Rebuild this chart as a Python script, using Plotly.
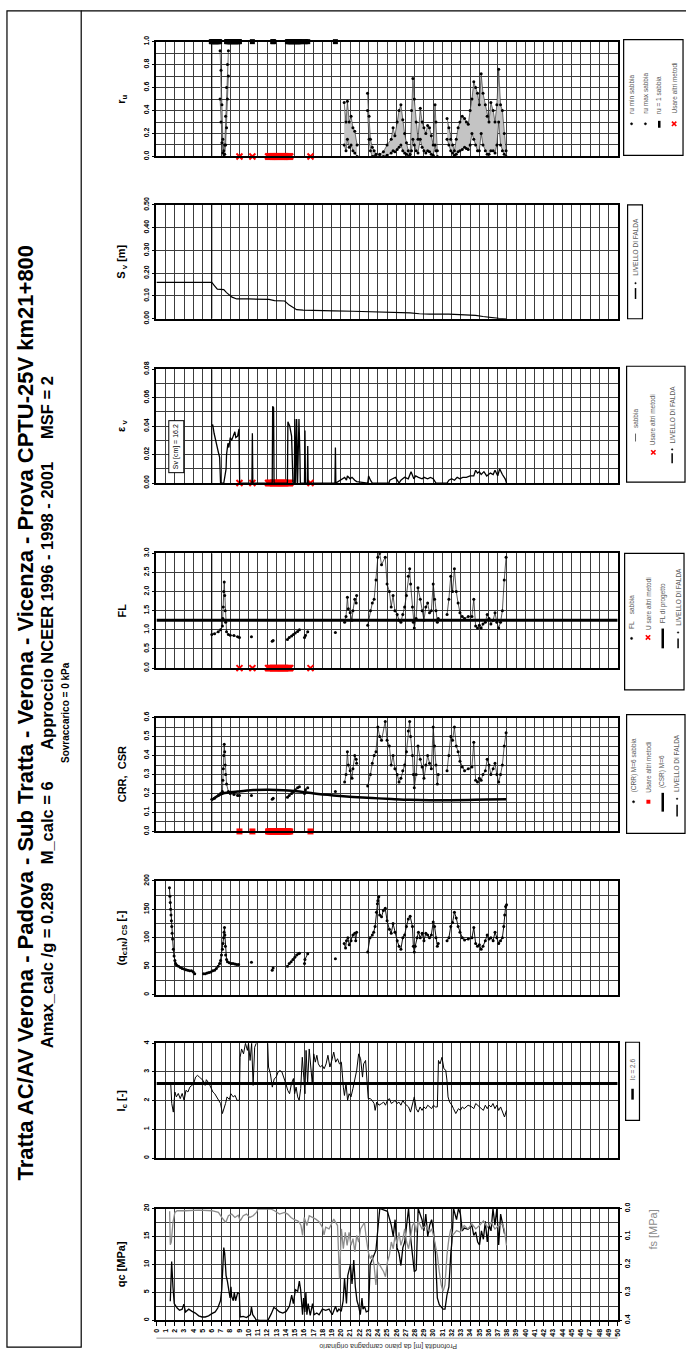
import plotly.graph_objects as go

W, H = 689, 1359

# ------------------------------------------------------------------ data
depth_ticks = list(range(0, 51))

qc_depth = [1.50, 1.65, 1.79, 1.93, 2.25, 2.50, 2.79, 2.97, 3.15, 3.50, 3.86, 4.22, 4.58, 4.94, 5.29, 5.65,
            6.01, 6.37, 6.65, 6.94, 7.08, 7.19, 7.30, 7.40, 7.55, 7.69, 7.80, 7.98, 8.08, 8.15, 8.33, 8.44,
            8.58, 8.80, 8.98, 9.08, 9.41, 9.76, 10.01, 10.19, 10.30, 10.44, 10.66, 10.80, 11.2, 12.0, 12.09,
            12.45, 12.73, 13.02, 13.34, 13.70, 14.06, 14.41, 14.66, 14.84, 15.06, 15.31, 15.49, 15.63, 15.74,
            15.84, 15.95, 16.09, 16.20, 16.31, 16.45, 16.67, 16.92, 17.10, 17.38, 17.63, 17.99, 18.35, 18.71,
            19.06, 19.42, 19.60, 19.78, 20.03, 20.24, 20.39, 20.60, 20.74, 21.03, 21.20, 21.39, 21.56, 21.74,
            21.92, 22.10, 22.28, 22.39, 22.56, 22.74, 22.99, 23.17, 23.79, 24.21, 25.04, 25.46, 25.67, 25.87,
            26.08, 26.29, 26.50, 26.71, 26.91, 27.12, 27.33, 27.54, 27.75, 27.95, 28.16, 28.37, 28.79, 28.99,
            29.20, 29.41, 29.62, 29.83, 30.03, 30.24, 30.45, 30.66, 31.07, 31.28, 31.49, 31.70, 31.91, 32.03,
            32.20, 32.53, 32.74, 32.95, 33.15, 33.36, 33.78, 34.19, 34.40, 34.61, 34.82, 35.02, 35.23, 35.44,
            35.65, 35.86, 36.06, 36.27, 36.48, 36.69, 36.90, 37.10, 37.31, 37.52, 37.73]
qc_val = [3.4, 10.5, 6.0, 3.0, 2.2, 1.8, 2.0, 2.9, 1.5, 2.0, 1.6, 1.3, 0.8, 0.6, 0.6, 0.8,
          1.2, 1.5, 2.2, 3.5, 5.5, 10.0, 13.0, 12.0, 8.0, 7.0, 5.5, 4.0, 6.0, 4.3, 3.5, 5.0,
          3.5, 4.9, 4.8, 0.6, 0.7, 0.5, 0.8, 1.0, 2.4, 1.0, 0.5, 0.1, 0.0, 0.0, 0.0,
          1.2, 2.3, 2.0, 1.5, 1.3, 1.6, 2.5, 4.5, 3.0, 5.5, 5.2, 7.0, 5.5, 2.0,
          1.0, 4.0, 1.5, 5.0, 1.0, 3.0, 0.9, 3.0, 1.0, 1.3, 1.0, 2.0, 1.8, 2.0,
          1.0, 2.5, 1.5, 2.0, 1.6, 3.5, 7.5, 3.0, 8.0, 10.0, 6.5, 10.8, 6.0, 3.5,
          2.5, 1.0, 4.0, 2.0, 2.5, 1.5, 1.7, 10.0, 12.5, 20.0, 19.5, 17.0, 15.0, 18.0,
          13.0, 12.0, 9.8, 13.0, 14.0, 17.0, 20.0, 15.0, 12.0, 8.7, 9.0, 20.0, 18.0, 16.0,
          19.0, 15.0, 17.0, 18.0, 16.0, 12.0, 4.0, 2.8, 2.0, 2.0, 4.5, 6.0, 12.0, 14.0,
          20.0, 18.0, 20.0, 19.0, 16.0, 16.5, 16.3, 17.0, 15.2, 15.8, 14.0, 13.5, 16.0, 14.5,
          17.7, 14.0, 17.0, 16.0, 20.0, 17.0, 20.0, 13.5, 19.0, 17.0, 15.5]

fs_depth = [1.43, 1.50, 1.61, 1.79, 2.00, 2.25, 3.15, 4.58, 6.01, 6.72, 7.08, 7.51, 7.80, 8.15, 8.51, 8.87,
            9.08, 9.41, 9.76, 10.12, 10.48, 10.84, 11.02, 12.45, 12.80, 13.34, 13.88, 14.23, 14.59, 14.95,
            15.31, 15.49, 15.67, 15.84, 16.02, 16.31, 16.56, 16.92, 17.27, 17.63, 17.99, 18.17, 18.35, 18.71,
            19.22, 19.63, 19.84, 20.05, 20.26, 20.47, 20.67, 20.88, 21.09, 21.30, 21.51, 21.71, 21.92, 22.13,
            22.34, 22.55, 22.75, 22.96, 23.17, 23.38, 23.59, 23.79, 24.00, 24.21, 24.63, 24.83, 25.04, 25.25,
            25.46, 25.67, 25.87, 26.08, 26.29, 26.50, 26.71, 26.91, 27.12, 27.33, 27.54, 27.75, 27.95, 28.16,
            28.37, 28.79, 29.20, 29.62, 29.83, 30.03, 30.24, 30.45, 30.66, 30.87, 31.07, 31.28, 31.49, 31.70,
            31.91, 32.11, 32.53, 32.95, 33.36, 33.78, 34.19, 34.61, 35.02, 35.44, 35.86, 36.27, 36.69, 37.10,
            37.52, 37.73, 37.94]
fs_val = [0.010, 0.130, 0.120, 0.050, 0.014, 0.008, 0.008, 0.006, 0.008, 0.014, 0.032, 0.050, 0.026, 0.020,
          0.032, 0.024, 0.044, 0.026, 0.020, 0.032, 0.026, 0.014, 0.002, 0.002, 0.008, 0.020, 0.014, 0.020,
          0.032, 0.040, 0.044, 0.050, 0.061, 0.096, 0.032, 0.061, 0.026, 0.032, 0.038, 0.047, 0.067, 0.094,
          0.067, 0.073, 0.038, 0.061, 0.250, 0.073, 0.144, 0.085, 0.132, 0.085, 0.132, 0.108, 0.155, 0.096,
          0.120, 0.073, 0.061, 0.050, 0.108, 0.155, 0.179, 0.167, 0.202, 0.273, 0.191, 0.202, 0.226, 0.244,
          0.191, 0.167, 0.120, 0.144, 0.096, 0.126, 0.085, 0.132, 0.108, 0.073, 0.120, 0.144, 0.096, 0.061,
          0.050, 0.085, 0.044, 0.073, 0.061, 0.085, 0.073, 0.096, 0.132, 0.167, 0.226, 0.273, 0.296, 0.273,
          0.167, 0.108, 0.073, 0.096, 0.079, 0.085, 0.061, 0.073, 0.055, 0.073, 0.061, 0.044, 0.067, 0.050,
          0.073, 0.061, 0.055, 0.079, 0.132]

ic_depth = [1.54, 1.66, 1.83, 2.00, 2.16, 2.37, 2.58, 2.79, 3.00, 3.20, 3.41, 3.62, 3.83, 4.03, 4.24, 4.45,
            4.66, 5.07, 5.28, 5.41, 5.70, 5.91, 6.12, 6.32, 6.53, 6.74, 6.95, 7.15, 7.28, 7.49, 7.65, 7.90,
            8.07, 8.32, 8.53, 8.74, 8.99, 9.07, 9.23, 9.44, 9.65, 9.86, 9.98, 10.15, 10.32, 10.48, 10.65,
            10.82, 11.2, 11.8, 12.06, 12.15, 12.35, 12.56, 12.77, 12.98, 13.19, 13.39, 13.60, 13.81, 14.02,
            14.23, 14.43, 14.64, 14.85, 14.98, 15.14, 15.31, 15.47, 15.64, 15.81, 15.97, 16.10, 16.22, 16.39,
            16.56, 16.72, 16.89, 17.05, 17.22, 17.39, 17.55, 17.76, 17.97, 18.18, 18.39, 18.59, 18.80, 19.01,
            19.22, 19.43, 19.63, 19.84, 20.05, 20.26, 20.38, 20.55, 20.72, 20.88, 21.09, 21.30, 21.51, 21.71,
            21.92, 22.13, 22.34, 22.46, 22.67, 22.80, 22.96, 23.17, 23.38, 23.59, 23.71, 23.88, 24.13, 24.42,
            24.63, 24.83, 25.04, 25.25, 25.46, 25.67, 25.87, 26.08, 26.29, 26.50, 26.71, 26.91, 27.12, 27.33,
            27.54, 27.75, 27.95, 28.16, 28.37, 28.58, 28.79, 28.99, 29.20, 29.41, 29.62, 29.83, 30.03, 30.24,
            30.45, 30.57, 30.74, 30.95, 31.16, 31.36, 31.49, 31.61, 31.78, 32.03, 32.20, 32.45, 32.74, 32.95,
            33.15, 33.36, 33.78, 34.19, 34.40, 34.61, 35.02, 35.44, 35.65, 35.86, 36.06, 36.27, 36.48, 36.69,
            36.90, 37.10, 37.31, 37.52, 37.73, 37.94]
ic_val = [2.65, 1.90, 1.60, 2.30, 2.13, 2.25, 2.07, 2.25, 2.01, 2.36, 2.30, 2.47, 2.53, 2.58, 2.82, 2.88,
          2.82, 2.70, 2.53, 2.73, 2.60, 2.42, 2.30, 2.24, 2.13, 2.01, 1.90, 1.55, 1.66, 1.90, 2.13, 2.04,
          2.24, 2.13, 2.18, 2.01, 2.01, 3.51, 3.80, 3.63, 4.00, 3.75, 4.00, 3.40, 4.00, 2.53, 3.86,
          4.00, 4.50, 4.50, 4.00, 3.17, 2.94, 2.47, 2.76, 2.82, 3.00, 3.05, 3.00, 2.82, 2.60,
          2.36, 2.24, 2.60, 2.77, 2.24, 2.47, 2.13, 2.01, 2.42, 3.51, 2.82, 2.24, 3.75, 2.60,
          3.80, 3.06, 2.60, 3.63, 3.34, 3.58, 3.28, 3.17, 3.23, 3.11, 3.28, 3.58, 3.17, 3.40,
          3.69, 3.34, 3.46, 3.28, 3.34, 2.47, 2.18, 2.60, 2.01, 2.24, 2.13, 2.42, 2.71, 3.06,
          3.63, 3.46, 2.82, 3.28, 3.40, 2.82, 2.07, 2.07, 2.01, 1.90, 1.66, 1.95, 1.84, 1.90,
          1.95, 1.84, 2.01, 2.07, 1.90, 1.95, 2.01, 1.90, 1.95, 1.84, 2.01, 1.90, 1.84, 1.78,
          1.60, 1.90, 2.13, 1.72, 1.60, 1.78, 1.66, 1.78, 1.72, 1.84, 1.78, 1.72, 1.84, 1.78,
          1.78, 3.40, 3.28, 3.51, 3.11, 3.06, 2.71, 2.13, 1.95, 1.84, 1.72, 1.55, 1.72, 1.66,
          1.78, 1.72, 1.84, 1.78, 1.72, 1.90, 1.78, 1.66, 1.84, 1.72, 1.84, 1.78, 1.90, 1.72,
          1.84, 1.66, 1.78, 1.60, 1.43, 1.66]
IC_LIMIT = 2.6

qc1_depth = [1.41, 1.46, 1.50, 1.54, 1.58, 1.62, 1.66, 1.70, 1.75, 1.83, 1.91, 2.00, 2.08, 2.2, 2.4, 2.6,
             2.8, 3.0, 3.2, 3.4, 3.6, 3.8, 4.0, 4.15, 5.1, 5.3, 5.5, 5.7, 5.9, 6.1, 6.3, 6.5, 6.7, 6.85,
             6.95, 7.05, 7.15, 7.22, 7.28, 7.33, 7.38, 7.42, 7.47, 7.5, 7.6, 7.7, 7.9, 8.1, 8.3, 8.5, 8.7,
             8.9, 10.3, 12.55, 12.65, 14.2, 14.4, 14.6, 14.8, 15.0, 15.2, 15.4, 15.5, 16.05, 16.1, 16.4,
             19.4, 20.35, 20.5, 20.6, 20.75, 20.9, 21.1, 21.3, 21.5, 21.6, 21.7, 22.9, 23.15, 23.4, 23.55,
             23.7, 23.85, 23.95, 24.0, 24.1, 24.2, 24.4, 24.6, 24.8, 25.0, 25.25, 25.45, 25.65, 25.85, 26.1,
             26.3, 26.5, 26.7, 26.9, 27.1, 27.3, 27.5, 27.75, 27.85, 27.95, 28.05, 28.25, 28.4, 28.6, 28.8,
             29.0, 29.2, 29.4, 29.6, 29.8, 30.0, 30.15, 30.3, 30.45, 30.55, 31.5, 31.7, 31.9, 32.1, 32.3,
             32.5, 32.7, 32.9, 33.15, 33.4, 33.8, 34.2, 34.4, 34.6, 34.8, 35.0, 35.2, 35.4, 35.65, 35.85,
             36.05, 36.25, 36.5, 36.7, 36.9, 37.1, 37.3, 37.5, 37.65, 37.75, 37.85, 37.95]
qc1_val = [188, 173, 162, 150, 140, 130, 120, 108, 98, 80, 68, 60, 55, 52, 50, 48,
           46, 45, 44, 43, 42, 42, 40, 37, 37, 37, 38, 39, 40, 42, 43, 46, 50, 55,
           60, 70, 80, 90, 100, 110, 118, 105, 85, 70, 62, 58, 56, 55, 55, 54, 53,
           53, 57, 43, 47, 50, 55, 58, 62, 66, 70, 72, 73, 55, 62, 72,
           63, 90, 82, 95, 100, 88, 95, 105, 108, 95, 110, 75, 100, 105, 110,
           120, 145, 160, 165, 172, 140, 137, 148, 152, 130, 115, 108, 125, 110, 95,
           85, 80, 100, 105, 120, 133, 138, 120, 85, 75, 85, 100, 110, 100, 108,
           95, 108, 105, 100, 105, 128, 120, 100, 85, 90, 95, 100, 120, 127, 145,
           135, 120, 110, 100, 96, 98, 100, 118, 90, 85, 88, 80, 85, 95, 105,
           98, 100, 95, 110, 100, 90, 95, 100, 120, 140, 155, 158]

crr_depth = [6.0, 6.3, 6.7, 6.95, 7.15, 7.2, 7.25, 7.3, 7.35, 7.4, 7.45, 7.5, 7.6, 7.8, 8.0, 8.4, 8.8, 9.0,
             10.3, 12.55, 12.65, 14.2, 14.4, 14.65, 14.85, 15.05, 15.3, 15.5, 16.05, 16.15, 16.4, 19.4,
             20.4, 20.55, 20.7, 20.8, 21.0, 21.2, 21.3, 21.5, 21.65, 21.7, 22.9, 23.2, 23.4, 23.6, 23.8,
             24.0, 24.2, 24.4, 24.8, 25.0, 25.25, 25.45, 25.65, 25.85, 26.1, 26.3, 26.5, 26.7, 26.9, 27.1,
             27.3, 27.45, 27.55, 27.75, 27.85, 27.95, 28.15, 28.35, 28.6, 28.8, 29.0, 29.2, 29.4, 29.6,
             29.8, 30.0, 30.15, 30.3, 30.45, 30.55, 31.5, 31.7, 31.9, 32.1, 32.3, 32.5, 32.7, 32.9, 33.15,
             33.4, 33.8, 34.2, 34.4, 34.6, 34.8, 35.0, 35.2, 35.4, 35.65, 35.85, 36.05, 36.25, 36.5, 36.7,
             36.9, 37.1, 37.3, 37.5, 37.7, 37.9]
crr_val = [0.17, 0.175, 0.19, 0.20, 0.21, 0.27, 0.33, 0.40, 0.46, 0.42, 0.35, 0.30, 0.25, 0.21, 0.20, 0.195, 0.19, 0.19,
           0.19, 0.17, 0.175, 0.18, 0.19, 0.20, 0.21, 0.22, 0.23, 0.235, 0.20, 0.22, 0.23, 0.21,
           0.26, 0.30, 0.42, 0.35, 0.32, 0.28, 0.33, 0.40, 0.38, 0.36, 0.24, 0.30, 0.36, 0.40, 0.42,
           0.55, 0.50, 0.48, 0.58, 0.48, 0.45, 0.35, 0.40, 0.33, 0.30, 0.26, 0.28, 0.32, 0.35, 0.42,
           0.53, 0.58, 0.50, 0.40, 0.30, 0.23, 0.30, 0.45, 0.38, 0.34, 0.28, 0.35, 0.40, 0.36,
           0.33, 0.55, 0.45, 0.35, 0.25, 0.30, 0.32, 0.40, 0.50, 0.48, 0.55, 0.45, 0.42, 0.37, 0.34,
           0.32, 0.33, 0.34, 0.47, 0.27, 0.26, 0.28, 0.27, 0.30, 0.32, 0.38, 0.35, 0.30, 0.33, 0.36,
           0.30, 0.26, 0.30, 0.35, 0.45, 0.52]

csr_depth = [6.0, 6.4, 7.2, 8.8, 10.5, 12.2, 13.8, 15.5, 17.1, 19.2, 21.3, 23.4, 25.5, 27.5, 29.6, 31.7,
             33.8, 35.9, 37.9]
csr_val = [0.165, 0.18, 0.20, 0.21, 0.218, 0.22, 0.217, 0.21, 0.20, 0.19, 0.182, 0.176, 0.171, 0.167,
           0.165, 0.165, 0.166, 0.168, 0.169]

fl_depth = crr_depth[:]
fl_val = [0.88, 0.90, 0.95, 1.00, 1.10, 1.30, 1.60, 2.00, 2.25, 1.90, 1.50, 1.20, 0.95, 0.88, 0.86, 0.85, 0.82, 0.80,
          0.82, 0.70, 0.72, 0.75, 0.80, 0.84, 0.88, 0.92, 0.96, 1.00, 0.80, 0.85, 0.95, 0.93,
          1.20, 1.35, 1.85, 1.55, 1.45, 1.25, 1.50, 1.80, 1.70, 1.90, 1.12, 1.50, 1.70, 1.80, 2.30,
          2.90, 3.00, 2.70, 2.90, 2.20, 2.00, 1.60, 1.90, 1.50, 1.40, 1.25, 1.20, 1.40, 1.60, 1.90,
          2.40, 2.60, 2.20, 1.60, 1.20, 1.05, 1.30, 2.10, 1.80, 1.50, 1.25, 1.60, 1.70, 1.45,
          1.50, 2.20, 1.80, 1.50, 1.20, 1.30, 1.40, 1.80, 2.40, 2.00, 2.60, 2.00, 1.70, 1.45, 1.35,
          1.30, 1.35, 1.35, 1.80, 1.10, 1.05, 1.12, 1.05, 1.15, 1.20, 1.40, 1.30, 1.15, 1.25, 1.45,
          1.20, 1.05, 1.20, 1.50, 2.30, 2.90]
FL_DESIGN = 1.25

ev_depth = [6.0, 6.1, 6.25, 6.4, 6.55, 6.7, 6.85, 6.95, 7.3, 7.55, 7.6, 7.75, 7.85, 8.0, 8.15, 8.4, 8.5,
            8.6, 8.8, 8.95, 9.02, 10.35, 10.4, 10.45, 12.55, 12.6, 12.7, 12.75, 14.2, 14.25, 14.45, 14.65,
            14.8, 14.95, 15.0, 15.1, 15.2, 15.3, 15.45, 15.55, 15.6, 16.05, 16.1, 16.15, 16.35, 16.4, 16.45,
            19.35, 19.4, 19.45, 20.4, 20.6, 20.7, 21.0, 21.2, 21.5, 21.7, 22.9, 23.0, 23.2, 23.4, 25.2,
            25.3, 25.6, 25.9, 26.1, 26.3, 26.5, 26.9, 27.3, 27.6, 27.9, 28.1, 28.4, 28.8, 29.0, 29.4, 29.7,
            30.0, 30.3, 31.5, 31.7, 32.0, 32.3, 32.6, 32.9, 33.2, 33.6, 34.0, 34.4, 34.6, 34.8, 35.0, 35.2,
            35.5, 35.8, 36.2, 36.5, 36.7, 37.0, 37.2, 37.5, 37.8, 37.95]
ev_val = [0.040, 0.041, 0.035, 0.030, 0.027, 0.022, 0.018, 0.0, 0.0, 0.010, 0.020, 0.028, 0.025, 0.032, 0.030,
          0.035, 0.036, 0.032, 0.033, 0.038, 0.0, 0.0, 0.035, 0.0, 0.0, 0.054, 0.053, 0.0, 0.0, 0.043, 0.040,
          0.033, 0.0, 0.0, 0.045, 0.0, 0.045, 0.0, 0.045, 0.020, 0.0, 0.0, 0.037, 0.0, 0.0, 0.026, 0.0,
          0.0, 0.025, 0.0, 0.004, 0.002, 0.005, 0.003, 0.004, 0.002, 0.001, 0.0, 0.005, 0.002, 0.0, 0.0,
          0.002, 0.003, 0.004, 0.002, 0.0, 0.002, 0.004, 0.003, 0.008, 0.003, 0.005, 0.004, 0.003, 0.004,
          0.003, 0.004, 0.003, 0.0, 0.0, 0.002, 0.003, 0.002, 0.004, 0.003, 0.004, 0.004, 0.005, 0.005,
          0.009, 0.007, 0.008, 0.006, 0.008, 0.005, 0.007, 0.006, 0.009, 0.005, 0.010, 0.006, 0.003, 0.0]
SV_TOTAL_CM = 16.2

sv_depth = [0.0, 6.0, 6.3, 6.6, 7.3, 7.6, 8.2, 8.7, 10.0, 12.2, 12.8, 13.9, 14.4, 14.8, 15.2, 15.9, 17.1,
            19.2, 21.3, 23.4, 25.5, 27.5, 28.5, 29.6, 31.7, 33.4, 34.6, 35.4, 36.3, 37.1, 37.9]
sv_val = [0.16, 0.16, 0.145, 0.13, 0.128, 0.115, 0.095, 0.087, 0.087, 0.085, 0.08, 0.078, 0.06, 0.048, 0.04,
          0.038, 0.038, 0.035, 0.033, 0.03, 0.03, 0.026, 0.022, 0.02, 0.02, 0.018, 0.015, 0.01, 0.005,
          0.002, 0.0]

ru_depth = [6.9, 7.0, 7.1, 7.2, 7.3, 7.4, 7.5, 7.6, 7.7, 7.8,
            20.35, 20.55, 20.7, 20.9, 21.1, 21.3, 21.5, 21.75,
            22.88, 23.05, 23.2, 23.4, 23.6, 23.8, 24.2, 24.6, 25.0, 25.45, 25.65, 25.85, 26.1, 26.3, 26.5,
            26.7, 26.9, 27.1, 27.3, 27.5, 27.65, 27.8, 27.95, 28.15, 28.35, 28.6, 28.8, 29.0, 29.2, 29.4,
            29.6, 29.8, 30.0, 30.2, 30.3, 30.45,
            31.5, 31.7, 31.9, 32.1, 32.3, 32.5, 32.7, 32.9, 33.15, 33.4, 33.6, 33.8, 34.0, 34.2, 34.4, 34.6,
            34.8, 35.0, 35.2, 35.4, 35.65, 35.85, 36.05, 36.25, 36.5, 36.7, 36.9, 37.1, 37.3, 37.5, 37.7, 37.9]
ru_max = [0.92, 0.75, 0.45, 0.15, 0.05, 0.10, 0.35, 0.60, 0.80, 0.92,
          0.47, 0.30, 0.48, 0.30, 0.35, 0.25, 0.22, 0.10,
          0.55, 0.35, 0.15, 0.08, 0.05, 0.02, 0.02, 0.04, 0.10, 0.15, 0.25, 0.18, 0.30, 0.40, 0.45,
          0.32, 0.20, 0.12, 0.05, 0.02, 0.40, 0.68, 0.50, 0.30, 0.15, 0.42, 0.30, 0.25, 0.20, 0.27,
          0.25, 0.18, 0.10, 0.45, 0.30, 0.05,
          0.33, 0.25, 0.15, 0.10, 0.05, 0.15, 0.25, 0.30, 0.35, 0.33, 0.30, 0.28, 0.40, 0.50, 0.65, 0.60,
          0.55, 0.45, 0.72, 0.55, 0.45, 0.35, 0.30, 0.47, 0.40, 0.30, 0.45, 0.76, 0.45, 0.40, 0.20, 0.05]
ru_min = [0.50, 0.30, 0.12, 0.03, 0.00, 0.02, 0.10, 0.25, 0.50, 0.70,
          0.10, 0.05, 0.15, 0.08, 0.10, 0.05, 0.03, 0.00,
          0.40, 0.15, 0.05, 0.00, 0.00, 0.00, 0.00, 0.00, 0.01, 0.03, 0.05, 0.04, 0.06, 0.08, 0.10,
          0.05, 0.03, 0.02, 0.00, 0.00, 0.05, 0.15, 0.10, 0.05, 0.03, 0.15, 0.08, 0.05, 0.03, 0.05,
          0.04, 0.02, 0.01, 0.10, 0.05, 0.00,
          0.15, 0.10, 0.05, 0.03, 0.01, 0.02, 0.04, 0.05, 0.06, 0.08, 0.07, 0.06, 0.10, 0.20, 0.15, 0.10,
          0.05, 0.05, 0.20, 0.10, 0.05, 0.02, 0.02, 0.05, 0.05, 0.03, 0.10, 0.30, 0.10, 0.05, 0.02, 0.00]
ru1_depth = [5.95, 6.05, 6.15, 6.25, 6.35, 6.45, 6.55, 6.65, 6.75, 6.85, 7.6, 7.7, 7.8, 7.9, 8.0, 8.1,
             8.2, 8.3, 8.4, 8.5, 8.6, 8.7, 8.8, 8.9, 9.0, 10.4, 12.6, 12.7, 14.2, 14.3, 14.4, 14.5, 14.6,
             14.7, 14.8, 14.9, 15.0, 15.1, 15.2, 15.3, 15.4, 15.5, 15.6, 15.7, 16.1, 16.2, 16.4, 19.4]
ru1_val = [1.0] * len(ru1_depth)

other_depth = [9.0, 10.4, 12.1, 12.2, 12.3, 12.4, 12.5, 12.6, 12.7, 12.8, 12.9, 13.0, 13.1, 13.2, 13.3,
               13.4, 13.5, 13.6, 13.7, 13.8, 13.9, 14.0, 14.1, 14.2, 14.3, 14.4, 14.5, 16.7]
other_val = [0.0] * len(other_depth)

WATER_TABLE = 6.0

TITLE_1 = "Tratta AC/AV Verona - Padova - Sub Tratta - Verona - Vicenza - Prova CPTU-25V km21+800"
TITLE_2 = ("Amax_calc /g = 0.289\u00a0\u00a0\u00a0 M_calc = 6\u00a0\u00a0\u00a0\u00a0\u00a0\u00a0 "
           "Approccio NCEER 1996 - 1998 - 2001\u00a0\u00a0\u00a0\u00a0 MSF = 2")
TITLE_3 = "Sovraccarico = 0 kPa"

# ------------------------------------------------------------------ helpers
FONT = "Liberation Sans"
GRID = "#3c3c3c"
LEG_TXT = "#595959"


def fx(p):
    return p / W


def fy(p):
    return 1 - p / H


def with_gaps(d, v, maxgap=0.45):
    xs, ys = [], []
    for i, (a, b) in enumerate(zip(d, v)):
        if i and a - d[i - 1] > maxgap:
            xs.append(None)
            ys.append(None)
        xs.append(a)
        ys.append(b)
    return xs, ys


X0, X1 = 154, 620
panels = [
    ("ru", 34, 150, [0, 1.0], 0.2, 0.1, ".1f", "r<sub>u</sub>"),
    ("sv", 199, 314, [0, 0.5], 0.1, None, ".2f", "S<sub> v</sub> [m]"),
    ("ev", 365, 480, [0, 0.08], 0.02, 0.01, ".2f", "\u03b5<sub> v</sub>"),
    ("fl", 551, 667, [0, 3.0], 0.5, None, ".1f", "FL"),
    ("crr", 717, 832, [0, 0.6], 0.1, 0.05, ".1f", "CRR,  CSR"),
    ("qc1", 882, 997, [0, 200], 50, 25, "d", "(q<sub>c1N</sub>)<sub> CS</sub> [-]"),
    ("ic", 1046, 1162, [0, 4], 1, None, "d", "I<sub>c</sub> [-]"),
    ("qc", 1213, 1326, [0, 20], 5, 2.5, "d", "qc [MPa]"),
]

fig = go.Figure()
layout = dict(
    width=W, height=H, margin=dict(l=0, r=0, t=0, b=0),
    paper_bgcolor="white", plot_bgcolor="white", showlegend=False,
    font=dict(family=FONT, color="black"),
)
annotations, shapes = [], []
tickfont = dict(family=FONT, size=7, color="black", weight="bold")

for i, (key, top, bot, rng, dt, mdt, fmt, title) in enumerate(panels, start=1):
    sfx = "" if i == 1 else str(i)
    last = key == "qc"
    layout["xaxis" + sfx] = dict(
        domain=[fx(X0), fx(X1)], anchor="y" + sfx, range=[0, 50], autorange=False,
        tickmode="array", tickvals=depth_ticks, ticktext=[str(t) for t in depth_ticks],
        showgrid=True, gridcolor=GRID, gridwidth=1, zeroline=False,
        showline=True, mirror=True, linecolor="black", linewidth=1.5,
        showticklabels=last, ticks="outside" if last else "", ticklen=4, tickcolor="black",
        tickangle=-90, tickfont=tickfont,
    )
    ya = dict(
        domain=[fy(bot), fy(top)], anchor="x" + sfx, range=rng, autorange=False,
        dtick=dt, tick0=0, tickformat=fmt, tickangle=-90, tickfont=tickfont,
        ticks="outside", ticklen=3, tickcolor="black",
        showgrid=True, gridcolor=GRID, gridwidth=1, zeroline=False,
        showline=True, mirror=True, linecolor="black", linewidth=1.5,
    )
    if mdt:
        ya["minor"] = dict(dtick=mdt, tick0=0, showgrid=True, gridcolor=GRID, gridwidth=1, ticks="")
    layout["yaxis" + sfx] = ya
    annotations.append(dict(
        xref="paper", yref="paper", x=fx(119), y=fy((top + bot) / 2), text=title,
        textangle=-90, showarrow=False, xanchor="center", yanchor="middle",
        font=dict(family=FONT, size=11, color="black", weight="bold"),
    ))

ax = {p[0]: ("" if i == 1 else str(i)) for i, p in enumerate(panels, start=1)}


def xy(key):
    return dict(xaxis="x" + ax[key], yaxis="y" + ax[key])


# ---- water table line in the upper five panels
for key in ["ru", "sv", "ev", "fl", "crr"]:
    top = [p for p in panels if p[0] == key][0][3][1]
    fig.add_trace(go.Scatter(x=[WATER_TABLE, WATER_TABLE], y=[0, top], mode="lines",
                             line=dict(color="black", width=1), **xy(key)))

# ---- ru
secs, cur = [], [0]
for i in range(1, len(ru_depth)):
    if ru_depth[i] - ru_depth[i - 1] > 0.6:
        secs.append(cur)
        cur = []
    cur.append(i)
secs.append(cur)
px_, py_ = [], []
for s in secs:
    d = [ru_depth[k] for k in s]
    px_ += d + d[::-1] + [None]
    py_ += [ru_max[k] for k in s] + [ru_min[k] for k in s][::-1] + [None]
fig.add_trace(go.Scatter(x=px_, y=py_, mode="lines", fill="toself", fillcolor="#c4c4c4",
                         line=dict(width=0, color="#c4c4c4"), **xy("ru")))
for vals in (ru_max, ru_min):
    gx, gy = with_gaps(ru_depth, vals, 0.6)
    fig.add_trace(go.Scatter(x=gx, y=gy, mode="lines+markers", line=dict(color="#222", width=0.6),
                             marker=dict(color="black", size=3), **xy("ru")))
gx, gy = with_gaps(ru1_depth, ru1_val, 0.3)
fig.add_trace(go.Scatter(x=gx, y=gy, mode="lines+markers", line=dict(color="black", width=3),
                         marker=dict(color="black", size=5, symbol="square"), cliponaxis=False, **xy("ru")))
for key in ["ru", "ev", "fl"]:
    fig.add_trace(go.Scatter(x=other_depth, y=other_val, mode="markers", cliponaxis=False,
                             marker=dict(color="red", size=6, symbol="x-thin", line=dict(color="red", width=2)),
                             **xy(key)))

# ---- Sv
fig.add_trace(go.Scatter(x=sv_depth, y=sv_val, mode="lines", line=dict(color="black", width=1.2), **xy("sv")))

# ---- eps v
fig.add_trace(go.Scatter(x=ev_depth, y=ev_val, mode="lines", line=dict(color="black", width=1.3), **xy("ev")))
annotations.append(dict(
    xref="paper", yref="paper", x=fx(174.5), y=fy(443), text=f"Sv [cm] = {SV_TOTAL_CM}",
    textangle=-90, showarrow=False, xanchor="center", yanchor="middle",
    font=dict(family=FONT, size=7, color="black"), bgcolor="white",
    bordercolor="black", borderwidth=1, borderpad=3,
))

# ---- FL
fig.add_trace(go.Scatter(x=[0, 50], y=[FL_DESIGN, FL_DESIGN], mode="lines",
                         line=dict(color="black", width=3), **xy("fl")))
gx, gy = with_gaps(fl_depth, fl_val)
fig.add_trace(go.Scatter(x=gx, y=gy, mode="lines+markers", line=dict(color="#111", width=0.7),
                         marker=dict(color="black", size=3), **xy("fl")))

# ---- CRR / CSR
fig.add_trace(go.Scatter(x=csr_depth, y=csr_val, mode="lines", line=dict(color="black", width=2.5, shape="spline"),
                         **xy("crr")))
gx, gy = with_gaps(crr_depth, crr_val)
fig.add_trace(go.Scatter(x=gx, y=gy, mode="lines+markers", line=dict(color="#111", width=0.7),
                         marker=dict(color="black", size=3), **xy("crr")))
fig.add_trace(go.Scatter(x=other_depth, y=other_val, mode="markers", cliponaxis=False,
                         marker=dict(color="red", size=6, symbol="square"), **xy("crr")))

# ---- qc1N cs
gx, gy = with_gaps(qc1_depth, qc1_val)
fig.add_trace(go.Scatter(x=gx, y=gy, mode="lines+markers", line=dict(color="#111", width=1),
                         marker=dict(color="black", size=3), **xy("qc1")))

# ---- Ic
fig.add_trace(go.Scatter(x=[0, 50], y=[IC_LIMIT, IC_LIMIT], mode="lines",
                         line=dict(color="black", width=3), **xy("ic")))
fig.add_trace(go.Scatter(x=ic_depth, y=ic_val, mode="lines", line=dict(color="black", width=1), **xy("ic")))

# ---- qc / fs
fig.add_trace(go.Scatter(x=fs_depth, y=fs_val, mode="lines", line=dict(color="#8c8c8c", width=1.3),
                         xaxis="x8", yaxis="y9"))
fig.add_trace(go.Scatter(x=qc_depth, y=qc_val, mode="lines", line=dict(color="black", width=1.3), **xy("qc")))
layout["yaxis9"] = dict(
    overlaying="y8", side="right", anchor="x8", range=[0.4, 0], autorange=False,
    dtick=0.1, tick0=0, tickformat=".1f", tickangle=-90, tickfont=tickfont,
    ticks="outside", ticklen=3, tickcolor="black", showgrid=False, zeroline=False, showline=False,
)
annotations.append(dict(
    xref="paper", yref="paper", x=fx(656), y=fy(1234), text="fs [MPa]", textangle=-90,
    showarrow=False, xanchor="center", yanchor="middle",
    font=dict(family=FONT, size=11, color="#8c8c8c"),
))
annotations.append(dict(
    xref="paper", yref="paper", x=fx(388), y=fy(1352), text="Profondit\u00e0 [m] da piano campagna originario",
    textangle=180, showarrow=False, xanchor="center", yanchor="middle",
    font=dict(family=FONT, size=7, color="#333"),
))
shapes.append(dict(type="line", xref="paper", yref="paper", x0=fx(X0), x1=fx(X1), y0=fy(1344), y1=fy(1344),
                   line=dict(color="#999", width=1)))

# ---- legends (drawn as boxes with rotated text)


def leg_box(x0, x1, y0, y1):
    shapes.append(dict(type="rect", xref="paper", yref="paper", x0=fx(x0), x1=fx(x1), y0=fy(y1), y1=fy(y0),
                       line=dict(color="black", width=1.2), fillcolor="white", layer="above"))


def leg_text(x, ybottom, text):
    annotations.append(dict(
        xref="paper", yref="paper", x=fx(x), y=fy(ybottom), text=text, textangle=-90,
        showarrow=False, xanchor="center", yanchor="bottom",
        font=dict(family=FONT, size=6.5, color=LEG_TXT),
    ))


def leg_dot(x, y, size=2.2, color="black"):
    shapes.append(dict(type="circle", xref="paper", yref="paper", x0=fx(x - size / 2), x1=fx(x + size / 2),
                       y0=fy(y + size / 2), y1=fy(y - size / 2), fillcolor=color, line=dict(color=color, width=0.5),
                       layer="above"))


def leg_vline(x, y0, y1, width=1, color="black"):
    shapes.append(dict(type="line", xref="paper", yref="paper", x0=fx(x), x1=fx(x), y0=fy(y0), y1=fy(y1),
                       line=dict(color=color, width=width), layer="above"))


def leg_x(x, y, s=2.2):
    for a, b in ((-s, s), (s, -s)):
        shapes.append(dict(type="line", xref="paper", yref="paper", x0=fx(x - s), x1=fx(x + s),
                           y0=fy(y + a), y1=fy(y + b), line=dict(color="red", width=1.6), layer="above"))


def leg_square(x, y, s=4):
    shapes.append(dict(type="rect", xref="paper", yref="paper", x0=fx(x - s / 2), x1=fx(x + s / 2),
                       y0=fy(y + s / 2), y1=fy(y - s / 2), fillcolor="red", line=dict(width=0), layer="above"))


# ru legend
leg_box(626, 686, 32, 149)
leg_dot(634, 117)
leg_text(634, 109, "ru min sabbia")
leg_dot(648, 117)
leg_text(648, 109, "ru max sabbia")
leg_vline(662, 114, 121, width=2.5)
leg_text(662, 109, "ru = 1 sabbia")
leg_x(677, 117)
leg_text(677, 109, "Usare altri metodi")

# Sv legend
leg_box(630, 645, 199, 314)
leg_vline(638, 283, 294, width=1.5)
leg_dot(638, 278, 1.5)
leg_text(638, 273, "LIVELLO DI FALDA")

# eps v legend
leg_box(629, 688, 362, 479)
leg_vline(638, 430, 438, width=1, color="#666")
leg_text(638, 427, "sabbia")
leg_x(656, 449)
leg_text(656, 444, "Usare altri metodi")
leg_vline(675, 450, 460, width=1.5)
leg_dot(675, 446, 1.5)
leg_text(675, 442, "LIVELLO DI FALDA")

# FL legend
leg_box(627, 687, 551, 689)
leg_dot(634, 637)
leg_text(634, 630, "FL\u00a0\u00a0\u00a0 sabbia")
leg_x(650.6, 636)
leg_text(650.6, 630, "U sare altri metodi")
leg_vline(665.5, 627, 647, width=2.5)
leg_text(665.5, 624, "FL di progetto")
leg_vline(681, 637, 647, width=1.5)
leg_dot(681, 631, 1.5)
leg_text(681, 626, "LIVELLO DI FALDA")

# CRR legend
leg_box(629, 688, 714, 834)
leg_dot(636, 802)
leg_text(636, 795, "(CRR) M=6 sabbia")
leg_square(651, 802)
leg_text(651, 795, "Usare altri metodi")
leg_vline(665.5, 793, 812, width=2.5)
leg_text(665.5, 790, "(CSR) M=6")
leg_vline(680, 805, 817, width=1.5)
leg_dot(680, 799, 1.5)
leg_text(680, 794, "LIVELLO DI FALDA")

# Ic legend
leg_box(628, 642, 1045, 1124)
leg_vline(635, 1092, 1103, width=2.5)
leg_text(635, 1086, "Ic = 2.6")

# ---- title block / frame
shapes.append(dict(type="rect", xref="paper", yref="paper", x0=fx(3), x1=fx(78), y0=fy(1353), y1=fy(3),
                   line=dict(color="black", width=1.2)))
shapes.append(dict(type="line", xref="paper", yref="paper", x0=fx(78), x1=fx(689), y0=fy(3), y1=fy(3),
                   line=dict(color="black", width=1.2)))
for x, txt, size in [(22, TITLE_1, 22), (43, TITLE_2, 16.5), (62, TITLE_3, 10)]:
    annotations.append(dict(
        xref="paper", yref="paper", x=fx(x), y=fy(712), text=txt, textangle=-90, showarrow=False,
        xanchor="center", yanchor="middle", font=dict(family=FONT, size=size, color="black", weight="bold"),
    ))

layout["annotations"] = annotations
layout["shapes"] = shapes
fig.update_layout(**layout)
fig.write_html("out.html", config={"displayModeBar": False},
               post_script="document.body.style.margin='0px';")
